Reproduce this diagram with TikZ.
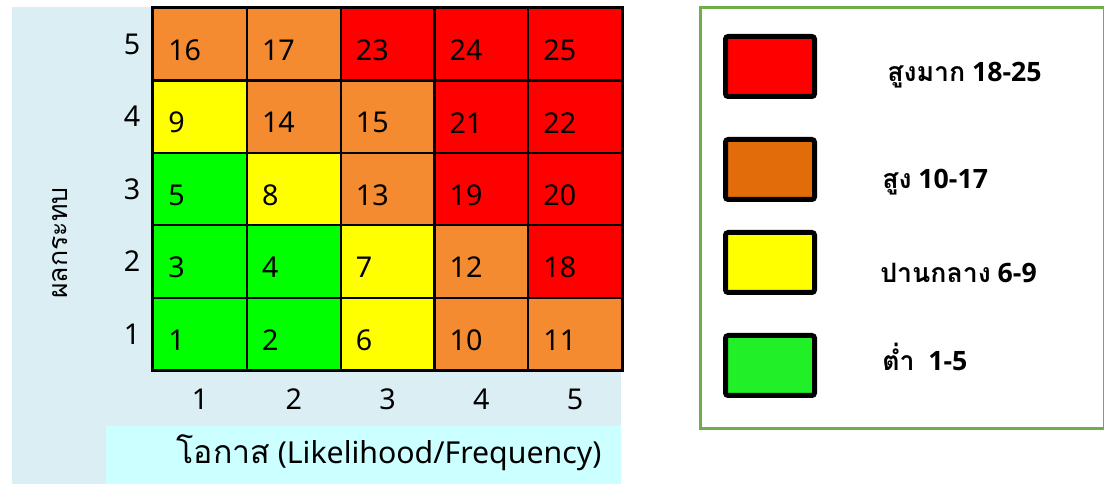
\documentclass[tikz,border=0pt]{standalone}
\usepackage{fontspec}
\usetikzlibrary{calc}
\setmainfont{Noto Sans}
\newfontfamily\thai[Script=Thai]{Loma}
\newfontfamily\legfont{Open Sans}
\definecolor{panelblue}{HTML}{DAEEF3}
\definecolor{stripcyan}{HTML}{CCFFFF}
\definecolor{cO}{HTML}{F58B31}
\definecolor{cR}{HTML}{FF0000}
\definecolor{cY}{HTML}{FFFF00}
\definecolor{cG}{HTML}{00FF00}
\definecolor{legO}{HTML}{E26B0A}
\definecolor{legG}{HTML}{21F028}
\definecolor{legborder}{HTML}{70AD47}
\tikzset{
  cell/.style={draw=black, line width=1.6pt, minimum width=93.8*0.75pt, minimum height=72.4*0.75pt, inner sep=0pt, anchor=north west},
  num/.style={anchor=west, inner sep=0pt, font=\fontsize{21.5}{24}\selectfont},
  axnum/.style={inner sep=0pt, font=\fontsize{21.5}{24}\selectfont},
  swatch/.style={draw=black, line width=3.75pt, rounded corners=2pt, minimum width=89*0.75pt, minimum height=60*0.75pt, inner sep=0pt},
  legtext/.style={anchor=west, inner sep=0pt, font=\fontsize{20}{24}\selectfont\legfont\bfseries},
}
\begin{document}
\begin{tikzpicture}[x=0.75pt, y=-0.75pt]
\useasboundingbox (0,0) rectangle (1104,484);
% panels
\fill[panelblue] (12,7) rectangle (621,484);
\fill[stripcyan] (106,426) rectangle (621,484);
% grid cells
\foreach \r/\row in {5/{16/cO,17/cO,23/cR,24/cR,25/cR}, 4/{9/cY,14/cO,15/cO,21/cR,22/cR}, 3/{5/cG,8/cY,13/cO,19/cR,20/cR}, 2/{3/cG,4/cG,7/cY,12/cO,18/cR}, 1/{1/cG,2/cG,6/cY,10/cO,11/cO}} {
  \foreach \v/\c [count=\k] in \row {
    \pgfmathsetmacro{\xl}{152+(\k-1)*93.8}
    \pgfmathsetmacro{\yt}{7+(5-\r)*72.4}
    \node[cell, fill=\c] (c\r\k) at (\xl,\yt) {};
    \node[num] (n\r\k) at ($(c\r\k.west)+(16,6)$) {\v};
  }
}
\draw[line width=2pt] (c51.north west) rectangle (c15.south east);
% axis numbers
\foreach \r in {1,...,5} {
  \node[axnum] (ry\r) at ($(c\r1.west)+(-20,0)$) {\r};
}
\foreach \k in {1,...,5} {
  \node[axnum] (rx\k) at ($(c1\k.south)+(0,28)$) {\k};
}
% axis titles
\node[inner sep=0pt, rotate=90, font=\fontsize{20}{24}\selectfont\thai] (ytitle) at (60,243) {ผลกระทบ};
\node[inner sep=0pt, font=\fontsize{22.7}{24}\selectfont] (xtitle) at (389,453) {{\thai\fontsize{24}{24}\selectfont โอกาส} (Likelihood/Frequency)};
% legend
\node[draw=legborder, line width=2pt, minimum width=404*0.75pt, minimum height=421*0.75pt, anchor=north west, inner sep=0pt] (legend) at (699,6) {};
\node[swatch, fill=cR] (s1) at (770,66.5) {};
\node[swatch, fill=legO] (s2) at (770,169.5) {};
\node[swatch, fill=cY] (s3) at (770,262.5) {};
\node[swatch, fill=legG] (s4) at (770,365.5) {};
\node[legtext] (l1) at (887,75) {{\thai\bfseries สูงมาก} 18-25};
\node[legtext] (l2) at (882,182) {{\thai\bfseries สูง} 10-17};
\node[legtext] (l3) at (880,273) {{\thai\bfseries ปานกลาง} 6-9};
\node[legtext] (l4) at (882,357) {{\thai\bfseries ต่ำ}\ \ 1-5};
\end{tikzpicture}
\end{document}
